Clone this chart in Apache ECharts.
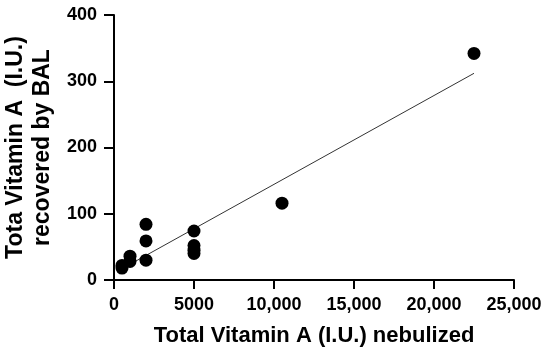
<!DOCTYPE html>
<html><head><meta charset="utf-8">
<script src="https://cdn.jsdelivr.net/npm/echarts@6/dist/echarts.min.js"></script>
<style>html,body{margin:0;padding:0;background:#fff}#c{width:550px;height:354px}</style>
</head><body><div id="c"></div>
<script>
const nebulized = [500, 500, 1000, 1000, 2000, 2000, 2000, 5000, 5000, 5000, 5000, 10500, 22500];
const recovered = [18, 22, 28, 36, 30, 59, 84, 74, 52, 45, 40, 116, 342];
const fitX = [500, 22500];
const fitY = [17, 312];
const xTicks = [0, 5000, 10000, 15000, 20000, 25000];
const yTicks = [0, 100, 200, 300, 400];

const pts = nebulized.map((x, i) => [x, recovered[i]]);
const fit = fitX.map((x, i) => [x, fitY[i]]);
const font = 'Liberation Sans, Arial, sans-serif';
const chart = echarts.init(document.getElementById('c'), null, {renderer: 'canvas'});
chart.setOption({
  animation: false,
  grid: {left: 114, right: 36, top: 15, bottom: 74, containLabel: false, outerBoundsMode: 'none'},
  xAxis: {
    type: 'value', min: xTicks[0], max: xTicks[xTicks.length - 1], interval: xTicks[1] - xTicks[0],
    axisLine: {lineStyle: {color: '#000', width: 2}},
    axisTick: {length: 9, lineStyle: {color: '#000', width: 2}},
    splitLine: {show: false},
    axisLabel: {color: '#000', fontSize: 18, fontWeight: 'bold', fontFamily: font, margin: 16, hideOverlap: false,
      formatter: v => v >= 10000 ? v.toLocaleString('en-US') : String(v)},
    name: 'Total Vitamin A (I.U.) nebulized', nameLocation: 'middle', nameGap: 45,
    nameTextStyle: {color: '#000', fontSize: 22, fontWeight: 'bold', fontFamily: font}
  },
  yAxis: {
    type: 'value', min: yTicks[0], max: yTicks[yTicks.length - 1], interval: yTicks[1] - yTicks[0],
    axisLine: {show: true, lineStyle: {color: '#000', width: 2}},
    axisTick: {show: true, length: 10, lineStyle: {color: '#000', width: 2}},
    splitLine: {show: false},
    axisLabel: {color: '#000', fontSize: 18, fontWeight: 'bold', fontFamily: font, margin: 17},
    name: 'Tota Vitamin A  (I.U.)\nrecovered by BAL', nameLocation: 'middle', nameGap: 57,
    nameTextStyle: {color: '#000', fontSize: 23, fontWeight: 'bold', fontFamily: font, lineHeight: 27}
  },
  series: [
    {type: 'line', data: fit, symbol: 'none', lineStyle: {color: '#333', width: 1}, z: 1},
    {type: 'scatter', data: pts, symbol: 'circle', symbolSize: 13, itemStyle: {color: '#000', opacity: 1}, z: 2}
  ]
});
</script></body></html>
